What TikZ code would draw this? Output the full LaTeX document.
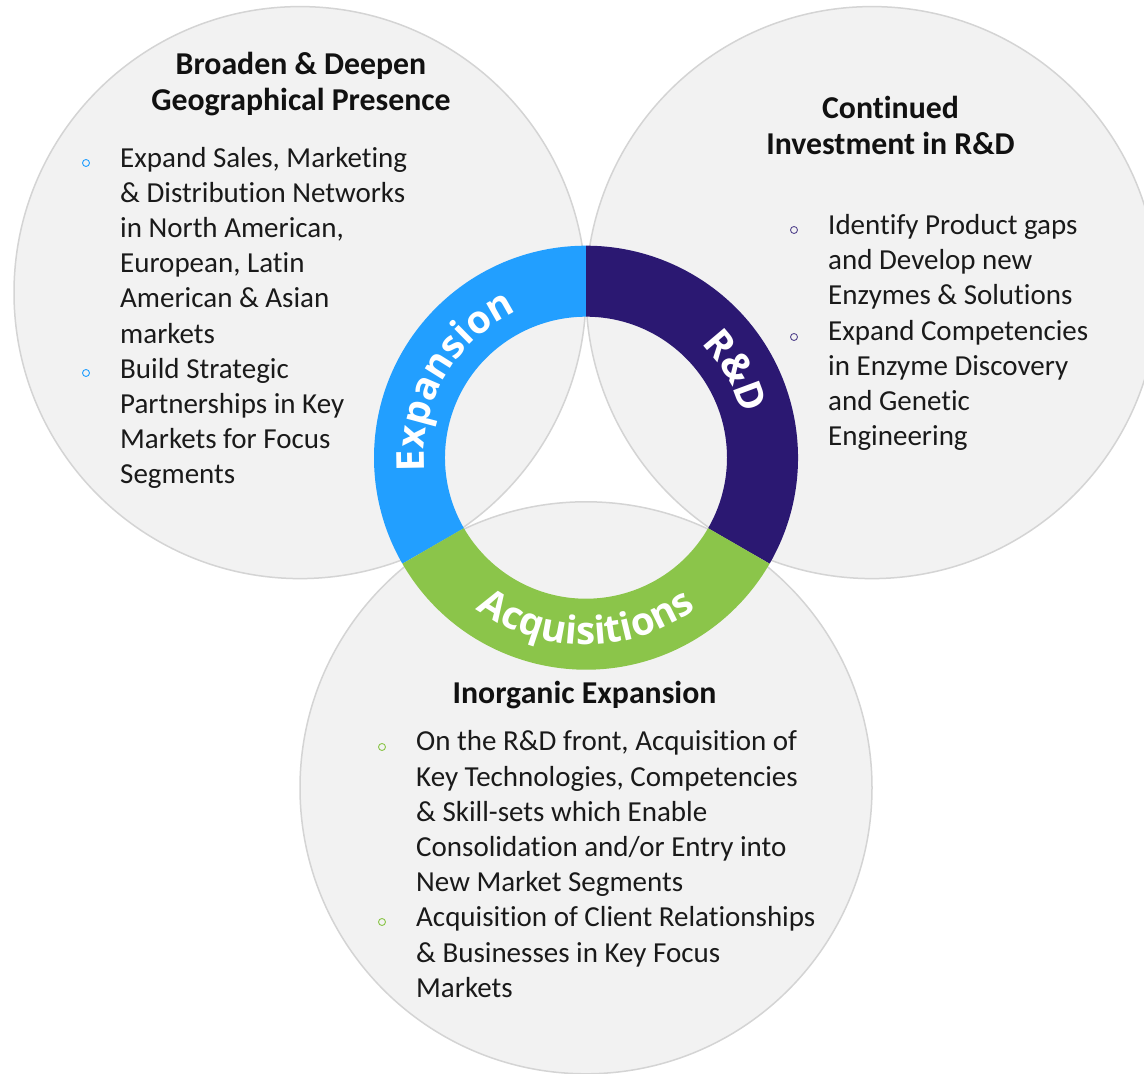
\documentclass[tikz,border=0pt]{standalone}
\usepackage{fontspec}
\setmainfont{Carlito}[Ligatures=NoCommon]
\newfontfamily\ringfont{Open Sans}
\usetikzlibrary{decorations.text}
\definecolor{circfill}{HTML}{F2F2F2}
\definecolor{circline}{HTML}{D4D4D4}
\definecolor{expblue}{HTML}{229FFF}
\definecolor{rdpurple}{HTML}{2B1872}
\definecolor{acqgreen}{HTML}{8BC54A}
\definecolor{bodytext}{HTML}{1A1A1A}
\definecolor{headtext}{HTML}{111111}
\newcommand{\ringtxt}{\ringfont\bfseries\fontsize{38.5}{40}\selectfont\color{white}}
\begin{document}
\begin{tikzpicture}[x=1pt,y=1pt,
  bigcircle/.style={circle, minimum size=572pt, inner sep=0pt, fill=circfill},
  circedge/.style={draw=circline, line width=1.5pt},
  bulletdot/.style={circle, minimum size=7pt, inner sep=0pt, line width=0.9pt},
  bodylist/.style={anchor=north west, inner sep=0pt, align=left, text=bodytext,
    font=\fontsize{29}{35.2}\selectfont},
  headblock/.style={inner sep=0pt, align=center, text=headtext,
    font=\bfseries\fontsize{31.8}{36.7}\selectfont},
  ringlabel/.style={decorate, decoration={text along path, text align=center}}
]
\useasboundingbox (0,0) rectangle (1144,1074);
\clip (0,0) rectangle (1144,1074);
\fill[white] (0,0) rectangle (1144,1074);

\coordinate (C) at (586,616.3);

% three tangent circles
\node[bigcircle] (L) at (300,781.4) {};
\node[bigcircle] (R) at (872,781.4) {};
\node[bigcircle] (B) at (586,286.2) {};
\draw[circedge] (L.center) circle[radius=286];
\draw[circedge] (R.center) circle[radius=286];
\draw[circedge] (B.center) circle[radius=286];

% ring segments
\fill[expblue] ([shift={(90:212)}]C) arc[start angle=90, end angle=210, radius=212]
  -- ([shift={(210:141)}]C) arc[start angle=210, end angle=90, radius=141] -- cycle;
\fill[rdpurple] ([shift={(-30:212)}]C) arc[start angle=-30, end angle=90, radius=212]
  -- ([shift={(90:141)}]C) arc[start angle=90, end angle=-30, radius=141] -- cycle;
\fill[acqgreen] ([shift={(210:212)}]C) arc[start angle=210, end angle=330, radius=212]
  -- ([shift={(330:141)}]C) arc[start angle=330, end angle=210, radius=141] -- cycle;

% ring labels
\path[ringlabel, decoration={text={|\ringtxt|Expansion}}]
  ([shift={(210:162)}]C) arc[start angle=210, end angle=90, radius=162];
\path[ringlabel, decoration={text={|\ringtxt|R{\&}D}}]
  ([shift={(90:162)}]C) arc[start angle=90, end angle=-30, radius=162];
\path[ringlabel, decoration={text={|\ringtxt|Acquisitions}}]
  ([shift={(210:187)}]C) arc[start angle=210, end angle=330, radius=187];

% headers
\node[headblock, anchor=north] (hL) at (301,1025.7)
  {\strut Broaden \& Deepen\\Geographical Presence};
\node[headblock, anchor=north] (hR) at (890.5,981.6)
  {\strut Continued\\Investment in R\&D};
\node[headblock, anchor=base] (hB) at (584.5,370.7) {Inorganic Expansion};

% bullet lists
\node[bodylist] (tL) at (120,931.64)
  {\strut Expand Sales, Marketing\\
   \& Distribution Networks\\
   in North American,\\
   European, Latin\\
   American \& Asian\\
   markets\\
   Build Strategic\\
   Partnerships in Key\\
   Markets for Focus\\
   Segments};
\node[bodylist] (tR) at (828,864.3)
  {\strut Identify Product gaps\\
   and Develop new\\
   Enzymes \& Solutions\\
   Expand Competencies\\
   in Enzyme Discovery\\
   and Genetic\\
   Engineering};
\node[bodylist] (tB) at (416,347.9)
  {\strut On the R\&D front, Acquisition of\\
   Key Technologies, Competencies\\
   \& Skill-sets which Enable\\
   Consolidation and/or Entry into\\
   New Market Segments\\
   Acquisition of Client Relationships\\
   \& Businesses in Key Focus\\
   Markets};

% bullets
\node[bulletdot, draw=expblue] (bL1) at (86,911) {};
\node[bulletdot, draw=expblue] (bL2) at (86,701) {};
\node[bulletdot, draw=rdpurple!80] (bR1) at (794,844) {};
\node[bulletdot, draw=rdpurple!80] (bR2) at (794,737) {};
\node[bulletdot, draw=acqgreen] (bB1) at (382,327) {};
\node[bulletdot, draw=acqgreen] (bB2) at (382,152) {};
\end{tikzpicture}
\end{document}
